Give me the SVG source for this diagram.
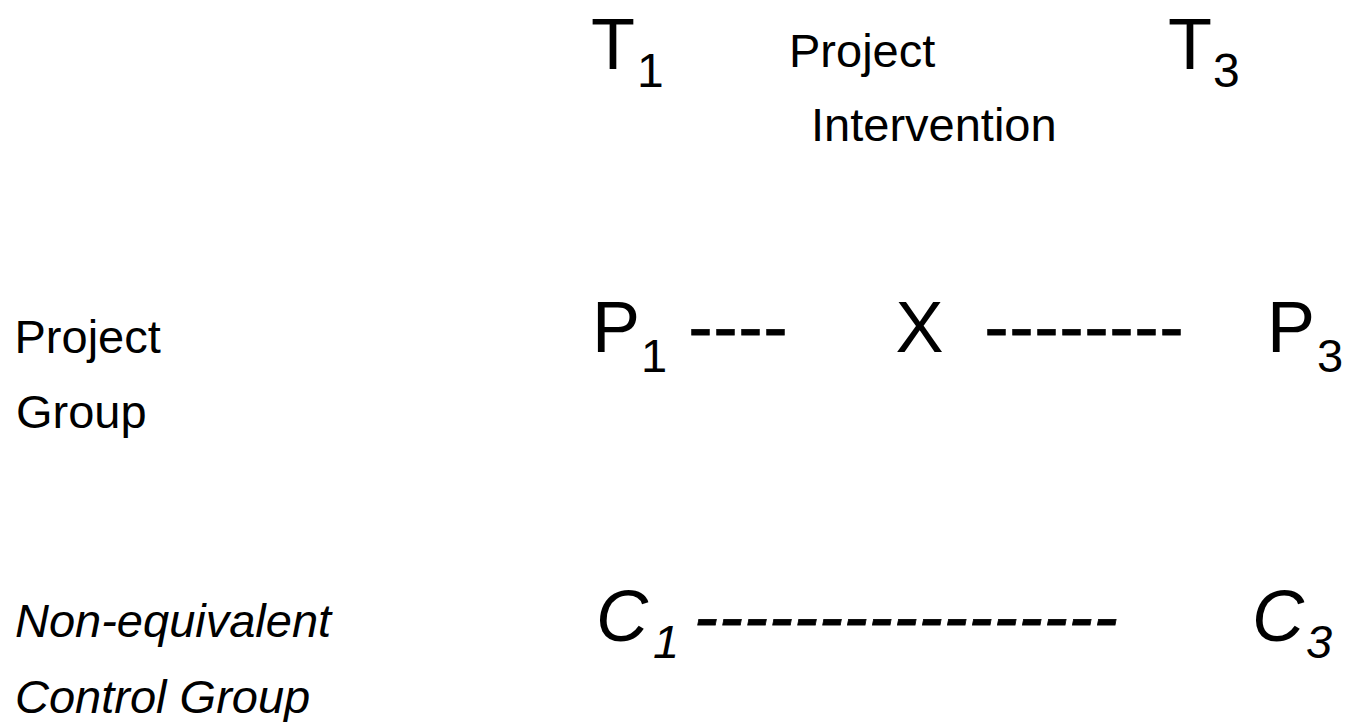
<svg xmlns="http://www.w3.org/2000/svg" width="1351" height="722" viewBox="0 0 1351 722">
<style>
text{font-family:"Liberation Sans",Arial,sans-serif;fill:#000}
.lbl{font-size:47px}
.big{font-size:72px}
.sub{font-size:47px}
.tsub{font-size:48px}
.it{font-style:italic}
.dash{font-size:72px;stroke:#000;stroke-width:0.8;letter-spacing:1px}
</style>
<rect width="1351" height="722" fill="#fff"/>
<g id="time1"><text class="big" x="591" y="69">T</text><text class="tsub" x="637" y="87">1</text></g>
<g id="intervention-label"><text class="lbl" x="789" y="67">Project</text><text class="lbl" x="811" y="141">Intervention</text></g>
<g id="time3"><text class="big" x="1168" y="69">T</text><text class="tsub" x="1213" y="87">3</text></g>
<g id="project-group-label"><text class="lbl" x="14.5" y="353">Project</text><text class="lbl" x="16" y="428">Group</text></g>
<g id="control-group-label"><text class="lbl it" x="15" y="637">Non-equivalent</text><text class="lbl it" x="15" y="713">Control Group</text></g>
<g id="P1"><text class="big" x="592" y="352">P</text><text class="sub" x="641" y="372">1</text></g>
<g id="X"><text class="big" x="895.6" y="352">X</text></g>
<g id="P3"><text class="big" x="1267" y="352">P</text><text class="sub" x="1317" y="372">3</text></g>
<g id="C1"><text class="big it" x="596" y="641">C</text><text class="sub it" x="653" y="658">1</text></g>
<g id="C3"><text class="big it" x="1252" y="641">C</text><text class="sub it" x="1306" y="658">3</text></g>
<g id="connectors">
<text class="dash" x="688.6" y="351">----</text>
<text class="dash" x="984.6" y="351">--------</text>
<text class="dash it" x="694" y="641">-----------------</text>
</g>
</svg>
